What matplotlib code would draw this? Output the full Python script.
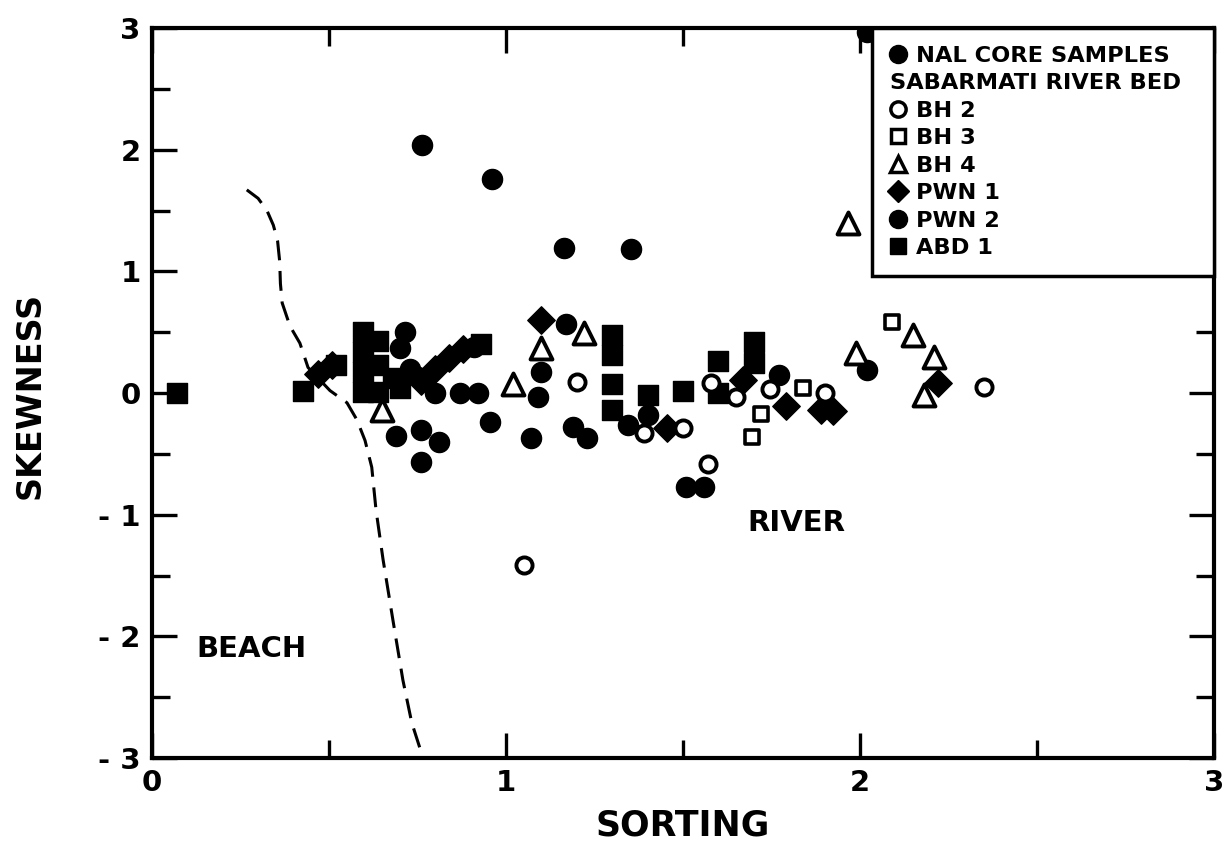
import matplotlib
matplotlib.use('Agg')
import matplotlib.pyplot as plt
from matplotlib.lines import Line2D

plt.rcParams['font.family'] = ['DejaVu Sans']
plt.rcParams['font.weight'] = 'bold'

# NAL core samples (filled circles)
nal_x = [0.763, 0.96, 1.164, 1.353]
nal_y = [2.04, 1.76, 1.19, 1.18]

# Sabarmati river bed
bh2_x = [1.20, 1.39, 1.50, 1.57, 1.58, 1.65, 1.745, 1.90, 2.35, 1.05]
bh2_y = [0.09, -0.33, -0.29, -0.58, 0.08, -0.03, 0.03, 0.0, 0.05, -1.41]

bh3_x = [2.09, 1.84, 1.72, 1.695]
bh3_y = [0.58, 0.04, -0.17, -0.36]

bh4_x = [1.966, 1.10, 1.22, 1.02, 1.99, 2.15, 2.21, 2.18, 0.65]
bh4_y = [1.40, 0.37, 0.49, 0.07, 0.33, 0.48, 0.30, -0.02, -0.14]

pwn1_x = [0.47, 0.51, 0.76, 0.80, 0.84, 0.88, 1.10, 1.455, 1.67, 1.79, 1.89, 1.925, 2.22]
pwn1_y = [0.16, 0.23, 0.10, 0.20, 0.29, 0.36, 0.60, -0.29, 0.11, -0.11, -0.14, -0.15, 0.08]

pwn2_x = [1.17, 0.715, 0.70, 0.73, 1.10, 1.09, 0.955, 1.07, 1.19, 1.23, 1.345, 1.40,
          1.51, 1.56, 1.77, 2.02, 0.69, 0.76, 0.81, 0.76, 0.80, 0.87, 0.92, 0.91, 2.02]
pwn2_y = [0.57, 0.50, 0.37, 0.20, 0.17, -0.03, -0.24, -0.37, -0.28, -0.37, -0.26, -0.18,
          -0.77, -0.77, 0.15, 0.19, -0.35, -0.30, -0.40, -0.57, 0.0, 0.0, 0.0, 0.38, 2.97]

abd1_x = [0.07, 0.427, 0.52, 0.597, 0.597, 0.597, 0.597, 0.64, 0.64, 0.64, 0.68, 0.70,
          0.93, 1.30, 1.30, 1.30, 1.30, 1.40, 1.50, 1.60, 1.60, 1.70, 1.70]
abd1_y = [0.0, 0.02, 0.23, 0.50, 0.34, 0.17, 0.01, 0.43, 0.23, 0.01, 0.12, 0.04,
          0.40, 0.48, 0.31, 0.07, -0.14, -0.02, 0.02, 0.26, 0.0, 0.42, 0.25]

# beach / river boundary (dashed)
line_x = [0.268, 0.300, 0.325, 0.343, 0.355, 0.361, 0.363, 0.368, 0.39, 0.418, 0.441,
          0.503, 0.551, 0.579, 0.602, 0.621, 0.633, 0.653, 0.681, 0.709, 0.734, 0.766]
line_y = [1.67, 1.60, 1.50, 1.38, 1.25, 1.08, 0.90, 0.74, 0.55, 0.41, 0.21,
          0.02, -0.08, -0.22, -0.39, -0.61, -0.96, -1.37, -1.87, -2.36, -2.71, -3.0]

x_ticks = [0, 1, 2, 3]
y_ticks = [-3, -2, -1, 0, 1, 2, 3]
y_tick_labels = ['- 3', '- 2', '- 1', '0', '1', '2', '3']

fig = plt.figure(figsize=(12.25, 8.65), dpi=100)
ax = fig.add_axes([0.124, 0.1237, 0.867, 0.8439])

ax.plot(line_x, line_y, color='k', lw=2.2, ls=(0, (6.5, 3.5)))

ax.scatter(nal_x, nal_y, s=210, marker='o', color='k', zorder=3)
ax.scatter(pwn2_x, pwn2_y, s=210, marker='o', color='k', zorder=3)
ax.scatter(abd1_x, abd1_y, s=210, marker='s', color='k', zorder=3)
ax.scatter(pwn1_x, pwn1_y, s=195, marker='D', color='k', zorder=3)
ax.scatter(bh2_x, bh2_y, s=135, marker='o', facecolor='white', edgecolor='k', linewidths=2.8, zorder=4)
ax.scatter(bh3_x, bh3_y, s=115, marker='s', facecolor='white', edgecolor='k', linewidths=2.6, zorder=4)
ax.scatter(bh4_x, bh4_y, s=250, marker='^', facecolor='white', edgecolor='k', linewidths=2.8, zorder=4)

ax.text(0.28, -2.1, 'BEACH', fontsize=21, ha='center', va='center')
ax.text(1.82, -1.07, 'RIVER', fontsize=21, ha='center', va='center')

ax.set_xlim(0, 3)
ax.set_ylim(-3, 3)
ax.set_xticks(x_ticks)
ax.set_xticks([0.5, 1.5, 2.5], minor=True)
ax.set_yticks(y_ticks)
ax.set_yticklabels(y_tick_labels)
ax.set_yticks([-2.5, -1.5, -0.5, 0.5, 1.5, 2.5], minor=True)
ax.tick_params(which='both', direction='in', top=True, right=True, width=2.4)
ax.tick_params(which='major', length=18, labelsize=21, pad=8)
ax.tick_params(which='minor', length=13)
for sp in ax.spines.values():
    sp.set_linewidth(3)

fig.text(30 / 1225, 1 - 395 / 865, 'SKEWNESS', rotation=90, fontsize=24, ha='center', va='center')
fig.text(683 / 1225, 1 - 826 / 865, 'SORTING', fontsize=25, ha='center', va='center')

handles = [
    Line2D([], [], ls='', marker='o', color='k', ms=13, label='NAL CORE SAMPLES'),
    Line2D([], [], ls='', marker='', label='SABARMATI RIVER BED'),
    Line2D([], [], ls='', marker='o', mfc='white', mec='k', mew=2.5, ms=11, label='BH 2'),
    Line2D([], [], ls='', marker='s', mfc='white', mec='k', mew=2.5, ms=10.5, label='BH 3'),
    Line2D([], [], ls='', marker='^', mfc='white', mec='k', mew=2.5, ms=12, label='BH 4'),
    Line2D([], [], ls='', marker='D', color='k', ms=11, label='PWN 1'),
    Line2D([], [], ls='', marker='o', color='k', ms=13, label='PWN 2'),
    Line2D([], [], ls='', marker='s', color='k', ms=12, label='ABD 1'),
]
leg = ax.legend(handles=handles, loc='upper left', bbox_to_anchor=(0.678, 0, 0.322, 1),
                mode='expand', borderaxespad=0, frameon=True,
                fancybox=False, edgecolor='k', framealpha=1,
                prop={'weight': 'bold', 'size': 16.2},
                handlelength=0.7, handletextpad=0.45, labelspacing=0.33, borderpad=0.8)
leg.get_frame().set_linewidth(2.5)
leg.set_zorder(10)

# the "SABARMATI RIVER BED" line has no symbol: let its text start at the marker column
rows = leg._legend_handle_box.get_children()[0].get_children()
rows[1].sep = 0
rows[1].get_children()[0].width = 0

fig.savefig('out.png', dpi=100)
